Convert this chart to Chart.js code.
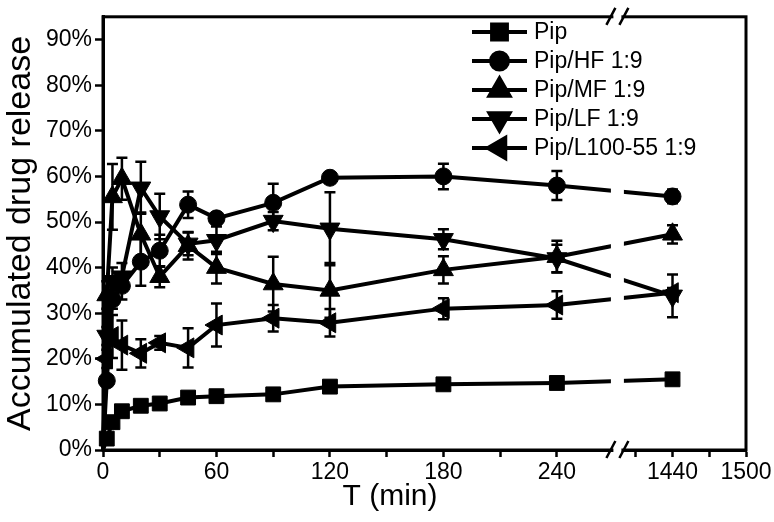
<!DOCTYPE html>
<html>
<head>
<meta charset="utf-8">
<script src="https://cdn.jsdelivr.net/npm/chart.js@4/dist/chart.umd.min.js"></script>
<style>
  html, body { margin: 0; padding: 0; background: #fff; }
  #wrap { width: 774px; height: 522px; }
</style>
</head>
<body>
<div id="wrap"><canvas id="c" width="774" height="522"></canvas></div>
<script>
// sampling times (min)
var TIMES = [0, 2, 5, 10, 20, 30, 45, 60, 90, 120, 180, 240, 1440];

// accumulated release (%) and error bars
var PIP      = [0, 2.5, 6.1, 8.5, 9.7, 10.2, 11.5, 11.8, 12.2, 13.9, 14.4, 14.7, 15.5];
var PIP_ERR  = [0, 0.3, 0.4, 0.4, 0.4, 0.4, 0.4, 0.4, 0.4, 0.4, 0.4, 0.4, 0.4];
var HF       = [0, 15.2, 33.0, 36.0, 41.3, 43.7, 53.8, 50.8, 54.2, 59.7, 60.0, 58.0, 55.6];
var HF_ERR   = [0, 1, 2, 3, 5.3, 3.5, 2.9, 1.2, 4.2, 0.5, 2.8, 3.2, 1.5];
var MF       = [0, 34, 55.5, 59.5, 47.3, 38.0, 44.8, 40.0, 36.4, 35.0, 39.5, 42.4, 47.3];
var MF_ERR   = [0, 3, 7.2, 4.6, 4.8, 2.3, 3, 3.5, 6, 6, 3, 3.5, 2];
var LF       = [0, 25, 37, 38, 57.5, 51.2, 45.2, 46.0, 50.2, 48.5, 46.2, 42.0, 33.8];
var LF_ERR   = [0, 2, 3, 3, 5.7, 5, 2.5, 3, 2, 8, 2.2, 3, 4.7];
var L100     = [0, 20, 24.9, 23.0, 21.2, 23.5, 22.4, 27.4, 28.9, 27.9, 31.0, 31.8, 34.5];
var L100_ERR = [0, 2, 4.7, 5.4, 3.1, 1.5, 4.3, 4.7, 2.9, 3, 2.3, 3, 1];

var NAMES = ['Pip', 'Pip/HF 1:9', 'Pip/MF 1:9', 'Pip/LF 1:9', 'Pip/L100-55 1:9'];

// axis ticks
var X_TICKS = [0, 30, 60, 90, 120, 150, 180, 210, 240, 1410, 1440, 1470, 1500];
var X_LABELS = [0, 60, 120, 180, 240, 1440, 1500];
var Y_MAX = 95;

// broken x axis: 0..BREAK_LO fills the first BREAK_AT of the width, BREAK_HI..max the rest
var BREAK_LO = 272, BREAK_HI = 1395, BREAK_AT = 0.8;

var FONT = "'Liberation Sans', Arial, sans-serif";

class BrokenScale extends Chart.LinearScale {
    buildTicks() {
        return X_TICKS.map(function (v) { return { value: v }; });
    }
    getPixelForValue(v) {
        var f;
        if (v <= BREAK_LO) f = (v - this.min) / (BREAK_LO - this.min) * BREAK_AT;
        else if (v >= BREAK_HI) f = BREAK_AT + (v - BREAK_HI) / (this.max - BREAK_HI) * (1 - BREAK_AT);
        else f = BREAK_AT;
        return this.getPixelForDecimal(f);
    }
    getValueForPixel(p) {
        var f = this.getDecimalForPixel(p);
        if (f <= BREAK_AT) return this.min + f / BREAK_AT * (BREAK_LO - this.min);
        return BREAK_HI + (f - BREAK_AT) / (1 - BREAK_AT) * (this.max - BREAK_HI);
    }
}
BrokenScale.id = 'broken';
BrokenScale.defaults = {};
Chart.register(BrokenScale);

function pts(vals) {
    return TIMES.map(function (t, i) { return { x: t, y: vals[i] }; });
}

var SERIES = [
    { vals: PIP, err: PIP_ERR, style: 'rect', rot: 0, r: 10.5 },
    { vals: HF, err: HF_ERR, style: 'circle', rot: 0, r: 8.5 },
    { vals: MF, err: MF_ERR, style: 'triangle', rot: 0, r: 11.5 },
    { vals: LF, err: LF_ERR, style: 'triangle', rot: 180, r: 11.5 },
    { vals: L100, err: L100_ERR, style: 'triangle', rot: 270, r: 11.5 }
];

var decor = {
    id: 'decor',
    beforeDatasetsDraw: function (chart) {
        var ctx = chart.ctx, xs = chart.scales.x, ys = chart.scales.y;
        ctx.save();
        ctx.strokeStyle = '#000';
        ctx.lineWidth = 2.5;
        SERIES.forEach(function (s) {
            TIMES.forEach(function (t, i) {
                if (!s.err[i]) return;
                var px = xs.getPixelForValue(t);
                var y1 = ys.getPixelForValue(s.vals[i] + s.err[i]);
                var y2 = ys.getPixelForValue(s.vals[i] - s.err[i]);
                ctx.beginPath();
                ctx.moveTo(px, y1); ctx.lineTo(px, y2);
                ctx.moveTo(px - 5.5, y1); ctx.lineTo(px + 5.5, y1);
                ctx.moveTo(px - 5.5, y2); ctx.lineTo(px + 5.5, y2);
                ctx.stroke();
            });
        });
        ctx.restore();
    },
    afterDatasetsDraw: function (chart) {
        var ctx = chart.ctx, a = chart.chartArea;
        var xb = chart.scales.x.getPixelForValue(BREAK_LO);
        ctx.save();
        ctx.fillStyle = '#fff';
        ctx.fillRect(xb - 6.5, a.top + 2, 13, a.bottom - a.top - 4);
        ctx.restore();
    },
    afterDraw: function (chart) {
        var ctx = chart.ctx, a = chart.chartArea;
        ctx.save();
        // frame
        ctx.strokeStyle = '#000';
        ctx.lineWidth = 3;
        ctx.strokeRect(a.left, a.top, a.right - a.left, a.bottom - a.top);

        // axis break marks
        var xb = chart.scales.x.getPixelForValue(BREAK_LO);
        [a.top, a.bottom].forEach(function (yy) {
            ctx.fillStyle = '#fff';
            ctx.fillRect(xb - 4, yy - 2.5, 8, 5);
            ctx.strokeStyle = '#000';
            ctx.lineWidth = 2.5;
            ctx.beginPath();
            ctx.moveTo(xb - 11, yy + 8); ctx.lineTo(xb - 2, yy - 9);
            ctx.moveTo(xb + 2, yy + 8); ctx.lineTo(xb + 11, yy - 9);
            ctx.stroke();
        });

        // legend: line + marker + name
        var lx = 472, lw = 55, ly = 32, step = 29;
        ctx.font = '23px ' + FONT;
        ctx.textBaseline = 'middle';
        ctx.textAlign = 'left';
        SERIES.forEach(function (s, i) {
            var y = ly + i * step;
            ctx.strokeStyle = '#000';
            ctx.lineWidth = 4;
            ctx.beginPath();
            ctx.moveTo(lx, y); ctx.lineTo(lx + lw, y);
            ctx.stroke();
            ctx.fillStyle = '#000';
            Chart.helpers.drawPoint(ctx, { pointStyle: s.style, rotation: s.rot, radius: s.r, borderWidth: 1 }, lx + lw / 2, y);
            ctx.fillStyle = '#000';
            ctx.fillText(NAMES[i], lx + lw + 7, y + 1);
        });

        // x title
        ctx.font = '30px ' + FONT;
        ctx.textAlign = 'center';
        ctx.fillText('T (min)', 390, 497);
        ctx.restore();
    }
};

var datasets = SERIES.map(function (s, i) {
    return {
        label: NAMES[i],
        data: pts(s.vals),
        borderColor: '#000',
        backgroundColor: '#000',
        borderWidth: 4,
        pointStyle: s.style,
        pointRotation: s.rot,
        pointRadius: function (c) { return c.dataIndex === 0 ? 0 : s.r; },
        pointBorderWidth: 1,
        pointBackgroundColor: '#000',
        pointBorderColor: '#000',
        tension: 0,
        clip: false
    };
});

new Chart(document.getElementById('c'), {
    type: 'line',
    data: { datasets: datasets },
    options: {
        responsive: false,
        animation: false,
        layout: { padding: { top: 11, right: 28, left: 0, bottom: 0 } },
        plugins: { legend: { display: false }, tooltip: { enabled: false } },
        scales: {
            x: {
                type: 'broken',
                min: 0,
                max: 1500,
                grid: { drawOnChartArea: false, drawTicks: true, tickLength: 7, tickWidth: 2.5, tickColor: '#000' },
                border: { display: true, width: 3, color: '#000' },
                ticks: {
                    autoSkip: false,
                    maxRotation: 0,
                    color: '#000',
                    padding: 2,
                    font: { family: FONT, size: 23 },
                    callback: function (v) { return X_LABELS.indexOf(v) >= 0 ? String(v) : ''; }
                },
                afterFit: function (s) { s.height = 72; }
            },
            y: {
                min: 0,
                max: Y_MAX,
                grid: { drawOnChartArea: false, drawTicks: true, tickLength: 8, tickWidth: 2.5, tickColor: '#000' },
                border: { display: true, width: 3, color: '#000' },
                ticks: {
                    stepSize: 5,
                    color: '#000',
                    padding: 3,
                    font: { family: FONT, size: 23 },
                    callback: function (v) { return (v % 10 === 0 && v <= 90) ? v + '%' : ''; }
                },
                title: {
                    display: true,
                    text: 'Accumulated drug release',
                    color: '#000',
                    font: { family: FONT, size: 34 },
                    padding: { top: 0, bottom: 2 }
                },
                afterFit: function (s) { s.width = 103; }
            }
        }
    },
    plugins: [decor]
});
</script>
</body>
</html>
